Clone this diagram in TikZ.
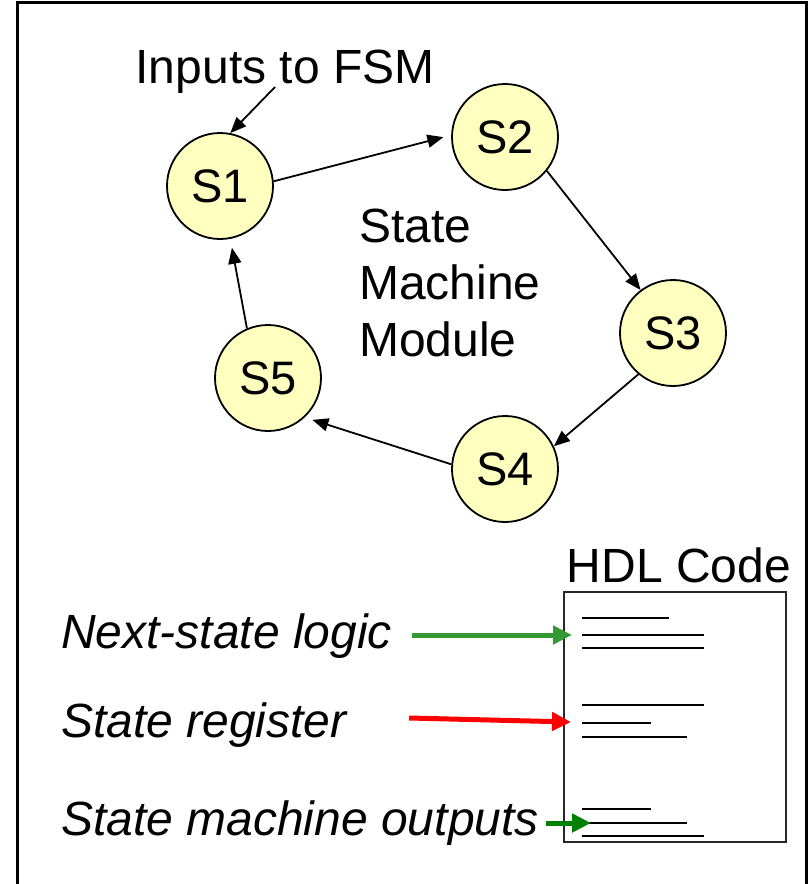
\documentclass[tikz,border=0pt]{standalone}
\usepackage{fontspec}
\setmainfont{Liberation Sans}
\usetikzlibrary{arrows.meta}
\definecolor{stfill}{RGB}{255,255,192}
\definecolor{lgreen}{RGB}{51,153,51}
\definecolor{dgreen}{RGB}{0,128,0}
\definecolor{boxgray}{RGB}{40,40,40}
\begin{document}
\begin{tikzpicture}[x=1pt,y=-1pt,
  every node/.style={font=\fontsize{48}{57}\selectfont},
  state/.style={circle,draw=black,line width=1.8pt,fill=stfill,minimum size=106pt,inner sep=0pt,font=\fontsize{47}{57}\selectfont},
  trans/.style={line width=1.8pt,-{Triangle[length=16pt,width=13pt]}},
  bigarrow/.style={line width=5pt,-{Triangle[length=19pt,width=18pt]}},
  codeline/.style={line width=2pt,black},
  lbl/.style={anchor=base west,inner sep=0pt,font=\fontsize{48}{57}\selectfont\itshape}]
\useasboundingbox (0,0) rectangle (808,884);
% outer frame
\draw[line width=3pt] (17.5,884) -- (17.5,2.5) -- (806,2.5) -- (806,884);
% states
\node[state] (S1) at (220,186) {S1};
\node[state] (S2) at (505,137) {S2};
\node[state] (S3) at (673,333) {S3};
\node[state] (S4) at (505,469) {S4};
\node[state] (S5) at (268,378) {S5};
\node[anchor=base,inner sep=0pt] (inp) at (285,83) {Inputs to FSM};
\coordinate (inpa) at (275,87);
\node[anchor=west,align=left,inner sep=0pt] (mod) at (359,283) {State\\Machine\\Module};
% transitions
\draw[trans] (inpa) -- (S1.79);
\draw[trans,shorten >=8pt] (S1.5) -- (S2.178);
\draw[trans] (S2.-39) -- (S3.127);
\draw[trans] (S3.230) -- (S4.25);
\draw[trans,shorten >=8pt] (S4.175) -- (S5.-47);
\draw[trans,shorten >=9pt] (S5.113) -- (S1.-79);
% HDL code
\node[anchor=base,inner sep=0pt] (hdl) at (679,582) {HDL Code};
\draw[line width=2pt,draw=boxgray] (564,592) rectangle (786,842);
\draw[codeline] (582,618) -- (669,618);
\draw[codeline] (582,635) -- (704,635);
\draw[codeline] (582,648) -- (704,648);
\draw[codeline] (582,705) -- (704,705);
\draw[codeline] (582,723) -- (651,723);
\draw[codeline] (582,737) -- (687,737);
\draw[codeline] (582,809) -- (651,809);
\draw[codeline] (582,823) -- (687,823);
\draw[codeline] (582,836) -- (704,836);
% labels
\node[lbl] (nsl) at (61,648) {Next-state logic};
\node[lbl] (sr) at (61,737) {State register};
\node[lbl] (smo) at (61,835) {State machine outputs};
\coordinate (t1) at (572,635);
\coordinate (t2) at (571,722);
\coordinate (t3) at (591,823);
\coordinate (s1) at (412,635);
\coordinate (s2) at (409,718);
\coordinate (s3) at (546,823);
\draw[bigarrow,lgreen] (s1) -- (t1);
\draw[bigarrow,red] (s2) -- (t2);
\draw[bigarrow,dgreen] (s3) -- (t3);
\end{tikzpicture}
\end{document}
